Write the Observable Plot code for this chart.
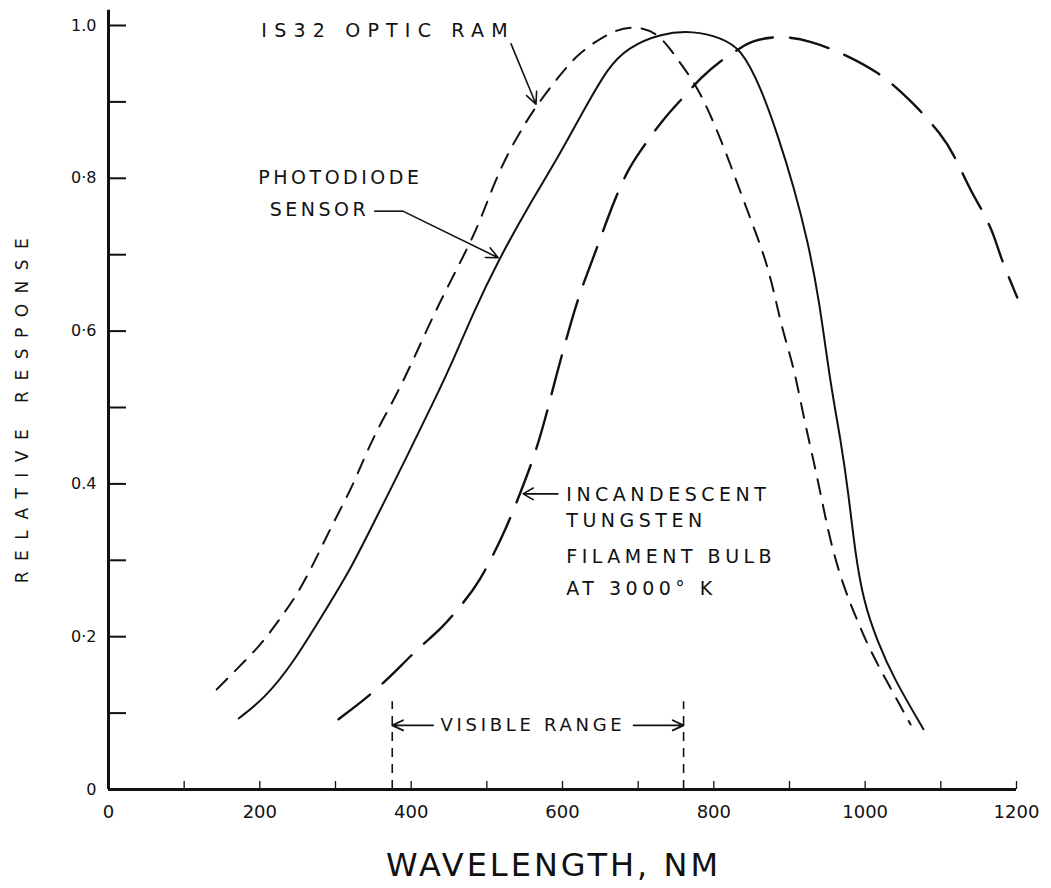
<!DOCTYPE html>
<html><head><meta charset="utf-8">
<script src="https://cdn.jsdelivr.net/npm/d3@7"></script>
<script src="https://cdn.jsdelivr.net/npm/@observablehq/plot@0.6"></script>
<style>body{margin:0;background:#fff}</style>
</head><body><div id="chart"></div>
<script>
// ---- tick values & labels ----
const wavelengthTicks = [0, 200, 400, 600, 800, 1000, 1200];
const wavelengthTickLabels = ["0", "200", "400", "600", "800", "1000", "1200"];
const wavelengthMinorTicks = [100, 200, 300, 400, 500, 600, 700, 800, 900, 1000, 1100, 1200];
const responseTicks = [0, 0.2, 0.4, 0.6, 0.8, 1.0];
const responseTickLabels = ["0", "0·2", "0.4", "0·6", "0·8", "1.0"];
const responseMinorTicks = [0.1, 0.2, 0.3, 0.4, 0.5, 0.6, 0.7, 0.8, 0.9, 1.0];
const wavelengthMax = 1200;
const responseAxisTop = 1.02;

// ---- IS32 optic RAM (short dashes) ----
const ramNm = [143, 170, 202, 224, 246, 264, 281, 298, 321, 338, 356, 380, 404, 430, 457, 488, 508, 529, 545, 561, 594, 620, 660, 690, 726, 756, 779, 803, 820, 836, 853, 869, 880, 891, 906, 919, 932, 944, 954, 970, 990, 1007, 1034, 1060];
const ramResponse = [0.131, 0.158, 0.19, 0.22, 0.25, 0.282, 0.316, 0.351, 0.394, 0.434, 0.473, 0.515, 0.565, 0.622, 0.675, 0.735, 0.79, 0.835, 0.862, 0.889, 0.932, 0.963, 0.99, 1.0, 0.993, 0.95, 0.919, 0.866, 0.823, 0.78, 0.735, 0.692, 0.649, 0.6, 0.552, 0.486, 0.43, 0.373, 0.325, 0.269, 0.22, 0.181, 0.132, 0.085];

// ---- Photodiode sensor (solid) ----
const diodeNm = [172, 206, 243, 285, 321, 356, 396, 430, 457, 483, 515, 554, 594, 628, 660, 686, 730, 774, 809, 836, 862, 884, 906, 924, 939, 954, 968, 978, 987, 998, 1016, 1038, 1077];
const diodeResponse = [0.093, 0.119, 0.164, 0.232, 0.29, 0.36, 0.439, 0.508, 0.565, 0.626, 0.692, 0.762, 0.827, 0.889, 0.945, 0.971, 0.99, 0.993, 0.984, 0.97, 0.919, 0.858, 0.788, 0.718, 0.643, 0.531, 0.456, 0.387, 0.308, 0.246, 0.194, 0.145, 0.079];

// ---- Incandescent tungsten filament bulb (long dashes) ----
const bulbNm = [304, 340, 371, 409, 440, 470, 488, 523, 552, 565, 581, 589, 620, 638, 668, 686, 700, 734, 760, 783, 809, 836, 849, 888, 928, 972, 1020, 1043, 1069, 1100, 1117, 1139, 1155, 1170, 1179, 1201];
const bulbResponse = [0.092, 0.119, 0.146, 0.185, 0.21, 0.246, 0.268, 0.334, 0.408, 0.443, 0.499, 0.532, 0.644, 0.688, 0.771, 0.81, 0.832, 0.879, 0.906, 0.932, 0.954, 0.971, 0.98, 0.987, 0.98, 0.963, 0.937, 0.917, 0.893, 0.858, 0.832, 0.784, 0.758, 0.727, 0.696, 0.644];

// ---- visible range ----
const visibleRangeNm = [375, 760];
const visibleRangeTop = 0.115;
const visibleArrowResponse = 0.084;
const visibleArrowInnerNm = [429, 694];

// ---- annotation texts (data coordinates) ----
const ramLabel = {text: "IS32 OPTIC RAM", nm: 202, r: 0.993};
const ramArrow = {nm1: 532, r1: 0.976, nm2: 565, r2: 0.897};
const diodeLabels = [{text: "PHOTODIODE", nm: 198, r: 0.800}, {text: "SENSOR", nm: 213, r: 0.759}];
const diodeLeader = {nm1: 351, nm2: 389, r: 0.757};
const diodeArrow = {nm1: 389, r1: 0.757, nm2: 515, r2: 0.696};
const bulbLabels = [
  {text: "INCANDESCENT", nm: 605, r: 0.385},
  {text: "TUNGSTEN", nm: 605, r: 0.352},
  {text: "FILAMENT BULB", nm: 605, r: 0.305},
  {text: "AT 3000° K", nm: 605, r: 0.262}
];
const bulbArrow = {nm1: 594, r1: 0.387, nm2: 548, r2: 0.387};
const visibleLabel = {text: "VISIBLE RANGE", nm: 561, r: 0.084};

const toPoints = (xs, ys) => xs.map((x, i) => ({nm: x, r: ys[i]}));
const ram = toPoints(ramNm, ramResponse);
const diode = toPoints(diodeNm, diodeResponse);
const bulb = toPoints(bulbNm, bulbResponse);

const font = '"DejaVu Sans", sans-serif';
const ink = "#111";

const plot = Plot.plot({
  width: 1051,
  height: 888,
  marginLeft: 108,
  marginRight: 35,
  marginTop: 25,
  marginBottom: 99,
  style: {fontFamily: font, background: "#fff", color: ink},
  x: {domain: [0, wavelengthMax]},
  y: {domain: [0, 1]},
  marks: [
    // axes lines
    Plot.ruleX([0], {y1: 0, y2: responseAxisTop, strokeWidth: 3, stroke: ink}),
    Plot.ruleY([0], {x1: 0, x2: wavelengthMax, strokeWidth: 3, stroke: ink}),
    // inward ticks
    Plot.axisY(responseMinorTicks, {anchor: "left", tickSize: 18, dx: 18, strokeWidth: 2, fill: "none", label: null}),
    Plot.axisX(wavelengthMinorTicks, {anchor: "bottom", tickSize: 8, dy: -8, strokeWidth: 1.3, fill: "none", label: null}),
    // tick labels
    Plot.axisY(responseTicks, {anchor: "left", tickSize: 0, tickPadding: 12, fontSize: 16, label: null,
      tickFormat: d => responseTickLabels[responseTicks.indexOf(d)]}),
    Plot.axisX(wavelengthTicks, {anchor: "bottom", tickSize: 0, tickPadding: 16, fontSize: 18, label: null,
      tickFormat: d => wavelengthTickLabels[wavelengthTicks.indexOf(d)]}),
    // axis titles
    Plot.text(["RELATIVE RESPONSE"], {frameAnchor: "left", textAnchor: "middle", lineAnchor: "middle", rotate: -90, dx: -86, dy: -2, fontSize: 17, fill: ink}),
    Plot.text(["WAVELENGTH, NM"], {frameAnchor: "bottom", textAnchor: "middle", lineAnchor: "middle", dx: -9, dy: 76, fontSize: 32, fill: ink}),
    // curves
    Plot.line(ram, {x: "nm", y: "r", curve: "basis", stroke: ink, strokeWidth: 2, strokeDasharray: "15,11"}),
    Plot.line(diode, {x: "nm", y: "r", curve: "basis", stroke: ink, strokeWidth: 2}),
    Plot.line(bulb, {x: "nm", y: "r", curve: "basis", stroke: ink, strokeWidth: 2.4, strokeDasharray: "40,17"}),
    // visible range
    Plot.ruleX(visibleRangeNm, {y1: 0, y2: visibleRangeTop, stroke: ink, strokeWidth: 1.6, strokeDasharray: "9,7"}),
    Plot.arrow(visibleRangeNm.map((d, i) => ({x1: visibleArrowInnerNm[i], x2: d})), {
      x1: "x1", x2: "x2", y1: visibleArrowResponse, y2: visibleArrowResponse,
      stroke: ink, strokeWidth: 1.8, headLength: 10, headAngle: 50}),
    Plot.text([visibleLabel], {x: "nm", y: "r", text: "text", fontSize: 18, fill: ink, textAnchor: "middle"}),
    // IS32 annotation
    Plot.text([ramLabel], {x: "nm", y: "r", text: "text", fontSize: 19, fill: ink, textAnchor: "start"}),
    Plot.arrow([ramArrow], {x1: "nm1", y1: "r1", x2: "nm2", y2: "r2", stroke: ink, strokeWidth: 1.6, headLength: 12, headAngle: 50}),
    // photodiode annotation
    Plot.text(diodeLabels, {x: "nm", y: "r", text: "text", fontSize: 19, fill: ink, textAnchor: "start"}),
    Plot.link([diodeLeader], {x1: "nm1", x2: "nm2", y1: "r", y2: "r", stroke: ink, strokeWidth: 1.6}),
    Plot.arrow([diodeArrow], {x1: "nm1", y1: "r1", x2: "nm2", y2: "r2", stroke: ink, strokeWidth: 1.6, headLength: 12, headAngle: 50}),
    // tungsten annotation
    Plot.text(bulbLabels, {x: "nm", y: "r", text: "text", fontSize: 19, fill: ink, textAnchor: "start"}),
    Plot.arrow([bulbArrow], {x1: "nm1", y1: "r1", x2: "nm2", y2: "r2", stroke: ink, strokeWidth: 1.6, headLength: 11, headAngle: 60})
  ]
});

// letter spacing for the stencil-style lettering (matched by text content)
const textSpacing = new Map([
  ["RELATIVE RESPONSE", 10.5], ["WAVELENGTH, NM", 3], ["VISIBLE RANGE", 3.7], ["IS32 OPTIC RAM", 7.2],
  ["PHOTODIODE", 3.5], ["SENSOR", 3.5], ["INCANDESCENT", 4.5], ["TUNGSTEN", 4.5], ["FILAMENT BULB", 4.5], ["AT 3000° K", 4.5]
]);
plot.querySelectorAll("text").forEach(t => {
  const s = textSpacing.get(t.textContent.trim());
  if (s !== undefined) { t.style.letterSpacing = s + "px"; t.setAttribute("letter-spacing", s); }
});
document.getElementById("chart").appendChild(plot);
</script>
</body></html>
